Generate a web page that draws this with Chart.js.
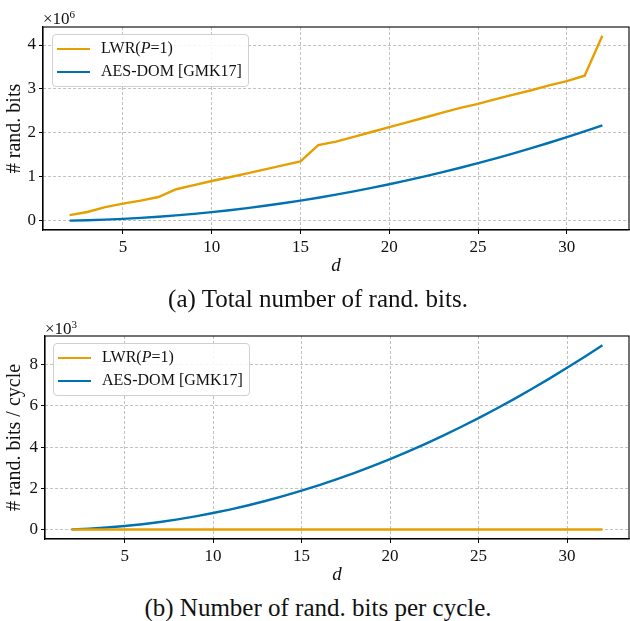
<!DOCTYPE html>
<html>
<head>
<meta charset="utf-8">
<script src="https://cdn.jsdelivr.net/npm/chart.js@4/dist/chart.umd.min.js"></script>
<style>
  html, body { margin:0; padding:0; background:#fff; }
  body { width:630px; height:621px; position:relative; overflow:hidden; font-family:"Liberation Serif", "DejaVu Serif", serif; color:#111; }
  .wrap { position:absolute; left:0; width:630px; }
  .mult { position:absolute; font-size:17px; line-height:1; }
  .mult sup { font-size:11px; vertical-align:6px; }
  .legend { position:absolute; border:1px solid #d0d0d0; border-radius:4px; background:rgba(255,255,255,0.85); font-size:16px; }
  .legend .row { position:absolute; left:0; height:20px; white-space:nowrap; }
  .legend .sw { position:absolute; left:4px; width:33px; height:0; border-top:2.4px solid; }
  .legend .tx { position:absolute; left:48px; top:0; line-height:20px; }
  .cap { position:absolute; left:0; width:636px; text-align:center; font-size:25px; line-height:1; }
</style>
</head>
<body>
<div class="wrap" id="w1" style="top:0;height:277px;"><canvas id="c1"></canvas></div>
<div class="wrap" id="w2" style="top:300px;height:286px;"><canvas id="c2"></canvas></div>

<div class="mult" style="left:43px;top:9px;">×10<sup>6</sup></div>
<div class="mult" style="left:45px;top:319px;">×10<sup>3</sup></div>

<div class="legend" style="left:52px;top:34px;width:195px;height:51px;">
  <div class="row" style="top:3px;"><div class="sw" style="top:10px;border-color:#E69F00;"></div><div class="tx">LWR(<i>P</i>=1)</div></div>
  <div class="row" style="top:26px;"><div class="sw" style="top:10px;border-color:#0072B2;"></div><div class="tx">AES-DOM [GMK17]</div></div>
</div>
<div class="legend" style="left:53px;top:343px;width:195px;height:51px;">
  <div class="row" style="top:3px;"><div class="sw" style="top:10px;border-color:#E69F00;"></div><div class="tx">LWR(<i>P</i>=1)</div></div>
  <div class="row" style="top:26px;"><div class="sw" style="top:10px;border-color:#0072B2;"></div><div class="tx">AES-DOM [GMK17]</div></div>
</div>

<div class="cap" style="top:286px;">(a) Total number of rand. bits.</div>
<div class="cap" style="top:595px;">(b) Number of rand. bits per cycle.</div>

<script>
// ---- data ----
const dValues = [2,3,4,5,6,7,8,9,10,11,12,13,14,15,16,17,18,19,20,21,22,23,24,25,26,27,28,29,30,31,32];

// total randomness bits
const lwrTotal = [130000,200000,310000,390000,460000,540000,717000,810000,905000,990000,1080000,1170000,1260000,1350000,
                  1720000,1800000,1910000,2020000,2130000,2240000,2350000,2460000,2570000,2660000,2770000,2870000,2970000,3080000,3180000,3300000,4210000];
const aesTotal = [4400,13000,26000,44000,66000,92000,122000,157000,197000,241000,289000,341000,398000,459000,
                  525000,595000,669000,748000,831000,919000,1010000,1107000,1207000,1312000,1422000,1535000,1653000,1776000,1903000,2034000,2170000];

// randomness bits per cycle
const lwrPerCycle = [10,10,10,10,10,10,10,10,10,10,10,10,10,10,10,10,10,10,10,10,10,10,10,10,10,10,10,10,10,10,10];
const aesPerCycle = [18,54,108,180,270,378,504,648,810,990,1188,1404,1638,1890,2160,2448,2754,3078,3420,3780,4158,4554,4968,5400,5850,6318,6804,7308,7830,8370,8928];

const xTicks = [5,10,15,20,25,30];
const yTicksTop = [0,1,2,3,4];        // ×10^6
const yTicksBottom = [0,2,4,6,8];     // ×10^3

const seriesNames = ['LWR(P=1)', 'AES-DOM [GMK17]'];
const seriesColors = ['#E69F00', '#0072B2'];

const FONT = "'Liberation Serif', 'DejaVu Serif', serif";

const frame = {
  id: 'frame',
  afterDraw(chart) {
    const a = chart.chartArea, ctx = chart.ctx;
    ctx.save();
    ctx.strokeStyle = '#000';
    ctx.lineWidth = 1.1;
    ctx.strokeRect(a.left, a.top, a.right - a.left, a.bottom - a.top);
    ctx.restore();
  }
};

function pts(xs, ys) { return xs.map((x, i) => ({x: x, y: ys[i]})); }

function makeChart(id, ys1, ys2, yTicks, scaleDiv, yMin, yMax, yLabel, yAxisWidth, padTop, xAxisHeight) {
  return new Chart(document.getElementById(id), {
    type: 'line',
    data: {
      datasets: [
        { label: seriesNames[0], data: pts(dValues, ys1), borderColor: seriesColors[0], backgroundColor: seriesColors[0], borderWidth: 2.4, pointRadius: 0, tension: 0 },
        { label: seriesNames[1], data: pts(dValues, ys2), borderColor: seriesColors[1], backgroundColor: seriesColors[1], borderWidth: 2.4, pointRadius: 0, tension: 0 }
      ]
    },
    options: {
      responsive: true,
      maintainAspectRatio: false,
      animation: false,
      events: [],
      layout: { padding: { top: padTop, right: 1, bottom: 0, left: 0 } },
      plugins: { legend: { display: false }, tooltip: { enabled: false } },
      scales: {
        x: {
          type: 'linear', min: 0.5, max: 33.5,
          afterBuildTicks: s => { s.ticks = xTicks.map(v => ({value: v})); },
          afterFit: s => { s.height = xAxisHeight; },
          grid: { color: '#b0b0b0', lineWidth: 0.8, tickLength: 4, tickColor: '#000', tickWidth: 1, tickBorderDash: [] },
          border: { color: '#000', width: 1.1, dash: [3, 2] },
          ticks: { color: '#111', font: { family: FONT, size: 17 }, padding: 3, maxRotation: 0, autoSkip: false },
          title: { display: true, text: 'd', color: '#111', font: { family: FONT, size: 19, style: 'italic' }, padding: 0 }
        },
        y: {
          type: 'linear', min: yMin, max: yMax,
          afterBuildTicks: s => { s.ticks = yTicks.map(v => ({value: v * scaleDiv})); },
          afterFit: s => { s.width = yAxisWidth; },
          grid: { color: '#b0b0b0', lineWidth: 0.8, tickLength: 4, tickColor: '#000', tickWidth: 1, tickBorderDash: [] },
          border: { color: '#000', width: 1.1, dash: [3, 2] },
          ticks: { color: '#111', font: { family: FONT, size: 17 }, padding: 3, autoSkip: false, callback: v => String(Math.round(v / scaleDiv)) },
          title: { display: true, text: yLabel, color: '#111', font: { family: FONT, size: 20 }, padding: { top: 3, bottom: 0 } }
        }
      }
    },
    plugins: [frame]
  });
}

makeChart('c1', lwrTotal, aesTotal, yTicksTop, 1e6, -210000, 4410000, '# rand. bits', 43, 27, 47);
makeChart('c2', lwrPerCycle, aesPerCycle, yTicksBottom, 1e3, -446, 9370, '# rand. bits / cycle', 45, 36, 47);
</script>
</body>
</html>
